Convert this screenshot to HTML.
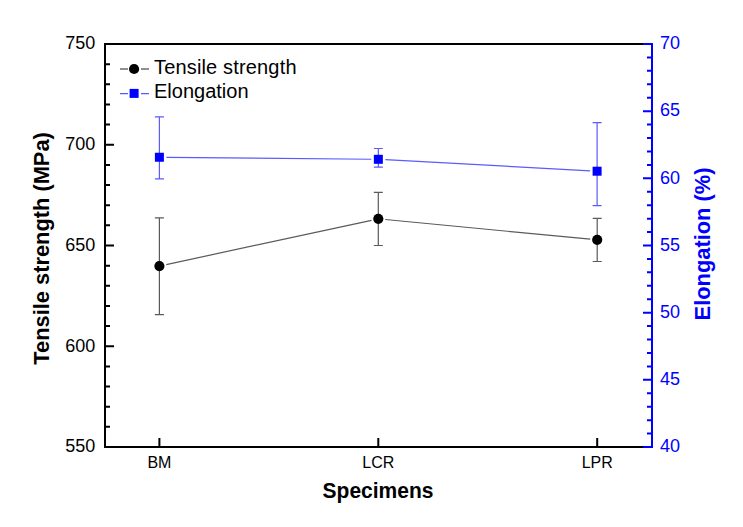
<!DOCTYPE html>
<html><head><meta charset="utf-8"><style>
html,body{margin:0;padding:0;background:#fff;width:743px;height:527px;overflow:hidden}
svg{display:block}
.t{font-family:"Liberation Sans",sans-serif;font-size:18px}
.x{font-family:"Liberation Sans",sans-serif;font-size:16px}
.l{font-family:"Liberation Sans",sans-serif;font-size:20px}
.b{font-family:"Liberation Sans",sans-serif;font-size:21px;font-weight:bold}
</style></head><body>
<svg width="743" height="527" viewBox="0 0 743 527">
<rect width="743" height="527" fill="#fff"/>
<path d="M104 44H643M105 43V448M104 447H643" stroke="#000" stroke-width="2" fill="none"/>
<path d="M643 44H653M652 43V448M643 447H653" stroke="#00f" stroke-width="2" fill="none"/>
<path d="M105 426.85H110 M105 406.70H110 M105 386.55H110 M105 366.40H110 M105 346.25H114 M105 326.10H110 M105 305.95H110 M105 285.80H110 M105 265.65H110 M105 245.50H114 M105 225.35H110 M105 205.20H110 M105 185.05H110 M105 164.90H110 M105 144.75H114 M105 124.60H110 M105 104.45H110 M105 84.30H110 M105 64.15H110" stroke="#000" stroke-width="2"/>
<path d="M652 433.57H647 M652 420.13H647 M652 406.70H647 M652 393.27H647 M652 379.83H643 M652 366.40H647 M652 352.97H647 M652 339.53H647 M652 326.10H647 M652 312.67H643 M652 299.23H647 M652 285.80H647 M652 272.37H647 M652 258.93H647 M652 245.50H643 M652 232.07H647 M652 218.63H647 M652 205.20H647 M652 191.77H647 M652 178.33H643 M652 164.90H647 M652 151.47H647 M652 138.03H647 M652 124.60H647 M652 111.17H643 M652 97.73H647 M652 84.30H647 M652 70.87H647 M652 57.43H647" stroke="#00f" stroke-width="2"/>
<path d="M159.4 447V438 M378.3 447V438 M597.2 447V438" stroke="#000" stroke-width="2"/>
<text transform="translate(95.3 452.30) scale(1 1.04)" text-anchor="end" class="t">550</text>
<text transform="translate(95.3 351.55) scale(1 1.04)" text-anchor="end" class="t">600</text>
<text transform="translate(95.3 250.80) scale(1 1.04)" text-anchor="end" class="t">650</text>
<text transform="translate(95.3 150.05) scale(1 1.04)" text-anchor="end" class="t">700</text>
<text transform="translate(95.3 49.30) scale(1 1.04)" text-anchor="end" class="t">750</text>
<text transform="translate(660 452.30) scale(1 1.04)" class="t" fill="#00f">40</text>
<text transform="translate(660 385.13) scale(1 1.04)" class="t" fill="#00f">45</text>
<text transform="translate(660 317.97) scale(1 1.04)" class="t" fill="#00f">50</text>
<text transform="translate(660 250.80) scale(1 1.04)" class="t" fill="#00f">55</text>
<text transform="translate(660 183.63) scale(1 1.04)" class="t" fill="#00f">60</text>
<text transform="translate(660 116.47) scale(1 1.04)" class="t" fill="#00f">65</text>
<text transform="translate(660 49.30) scale(1 1.04)" class="t" fill="#00f">70</text>
<text x="159.4" y="468.4" text-anchor="middle" class="x">BM</text>
<text x="378.3" y="468.4" text-anchor="middle" class="x">LCR</text>
<text x="597.2" y="468.4" text-anchor="middle" class="x">LPR</text>
<text transform="translate(378 498.4) scale(1 1.05)" text-anchor="middle" class="b">Specimens</text>
<text transform="translate(49.4 248.4) rotate(-90) scale(1.04 1.05)" text-anchor="middle" class="b">Tensile strength (MPa)</text>
<text transform="translate(709.7 244) rotate(-90) scale(1.04 1.05)" text-anchor="middle" class="b" fill="#00f">Elongation (%)</text>
<path d="M166.24 264.57L371.46 220.33 M385.27 219.52L590.23 239.18" stroke="#5a5a5a" stroke-width="1.2" fill="none"/>
<path d="M159.4 217.9V314.7M154.9 217.9H163.9M154.9 314.7H163.9 M378.3 192.4V245.5M373.8 192.4H382.8M373.8 245.5H382.8 M597.2 218.3V261.5M592.7 218.3H601.7M592.7 261.5H601.7" stroke="#5a5a5a" stroke-width="1.2" fill="none"/>
<circle cx="159.4" cy="266.05" r="5.1" fill="#000"/>
<circle cx="378.3" cy="218.85" r="5.1" fill="#000"/>
<circle cx="597.2" cy="239.85" r="5.1" fill="#000"/>
<path d="M166.40 157.32L371.35 159.23 M385.34 159.68L590.11 170.82" stroke="#5a5aff" stroke-width="1.2" fill="none"/>
<path d="M159.4 116.9V178.8M154.9 116.9H163.9M154.9 178.8H163.9 M378.35 148.5V167.1M373.85 148.5H382.85M373.85 167.1H382.85 M597.1 122.6V205.6M592.6 122.6H601.6M592.6 205.6H601.6" stroke="#5a5aff" stroke-width="1.2" fill="none"/>
<rect x="154.9" y="152.75" width="9" height="9" fill="#00f"/>
<rect x="373.85" y="154.8" width="9" height="9" fill="#00f"/>
<rect x="592.6" y="166.7" width="9" height="9" fill="#00f"/>
<path d="M120 69H128M141 69H149" stroke="#222" stroke-width="1.2"/>
<circle cx="134.1" cy="69" r="5.1" fill="#000"/>
<path d="M120 93.6H128M141 93.6H149" stroke="#5a5aff" stroke-width="1.2"/>
<rect x="129.6" y="88.9" width="9" height="9" fill="#00f"/>
<text x="154" y="73.5" class="l" textLength="142.5" lengthAdjust="spacing">Tensile strength</text>
<text x="154" y="98" class="l">Elongation</text>
</svg>
</body></html>
